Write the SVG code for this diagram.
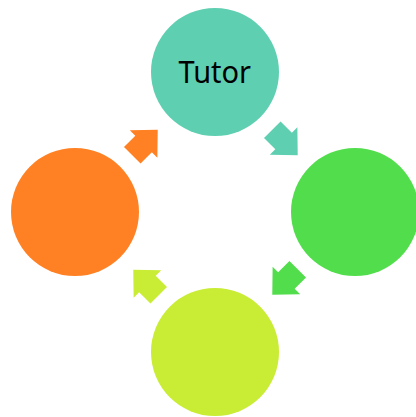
<svg xmlns="http://www.w3.org/2000/svg" width="416" height="417" viewBox="0 0 416 417">
  <style>
    .lbl { font-family: "Noto Sans", "DejaVu Sans", sans-serif; font-size: 31px; fill: #000; }
  </style>
  <defs>
    <path id="arr" d="M-18,-11.7 L-2,-11.7 L-2,-19.5 L18,0 L-2,19.5 L-2,11.7 L-18,11.7 Z"/>
  </defs>
  <rect width="416" height="417" fill="#fff"/>
  <g id="connectors">
    <use href="#arr" fill="#5ECFB1" transform="translate(285,142.5) rotate(45)"/>
    <use href="#arr" fill="#52DE4C" transform="translate(285,282) rotate(135)"/>
    <use href="#arr" fill="#C9EC34" transform="translate(146,282.5) rotate(225)"/>
    <use href="#arr" fill="#FF8123" transform="translate(145,142.5) rotate(315)"/>
  </g>
  <g id="node-tutor">
    <circle cx="215" cy="72" r="64" fill="#5ECFB1"/>
    <text class="lbl" x="178.5" y="82.7" textLength="72.5" lengthAdjust="spacingAndGlyphs">Tutor</text>
  </g>
  <g id="node-right">
    <circle cx="355" cy="212" r="64" fill="#52DE4C"/>
  </g>
  <g id="node-bottom">
    <circle cx="215" cy="352" r="64" fill="#C9EC34"/>
  </g>
  <g id="node-left">
    <circle cx="75" cy="212" r="64" fill="#FF8123"/>
  </g>
</svg>
